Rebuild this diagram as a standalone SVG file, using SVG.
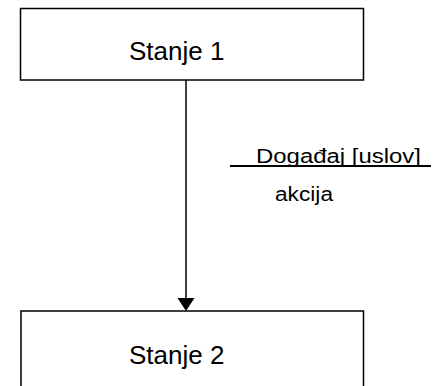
<svg xmlns="http://www.w3.org/2000/svg" width="438" height="386" viewBox="0 0 438 386">
<style>
.box{fill:#fff;stroke:#000;stroke-width:1.5}
.t{font-family:"Liberation Sans",Arial,sans-serif;fill:#000}
.big{font-size:26px}
.lbl{font-size:20px}
.edge{stroke:#000;stroke-width:1.5;fill:none}
</style>
<rect width="438" height="386" fill="#fff"/>
<g id="stanje1">
<rect class="box" x="20.5" y="8.5" width="343" height="71.5"/>
<text class="t big" x="129" y="60">Stanje 1</text>
</g>
<g id="stanje2">
<rect class="box" x="21" y="311" width="342.5" height="100"/>
<text class="t big" x="129" y="364">Stanje 2</text>
</g>
<g id="connectors">
<line class="edge" x1="186" y1="80" x2="186" y2="299"/>
<polygon points="177.5,298 194.5,298 186,311" fill="#000"/>
<line x1="230" y1="166" x2="431" y2="166" stroke="#000" stroke-width="2"/>
<text class="t lbl" x="256" y="163" textLength="165" lengthAdjust="spacingAndGlyphs">Događaj [uslov]</text>
<text class="t lbl" x="275" y="201" textLength="58" lengthAdjust="spacingAndGlyphs">akcija</text>
</g>
</svg>
